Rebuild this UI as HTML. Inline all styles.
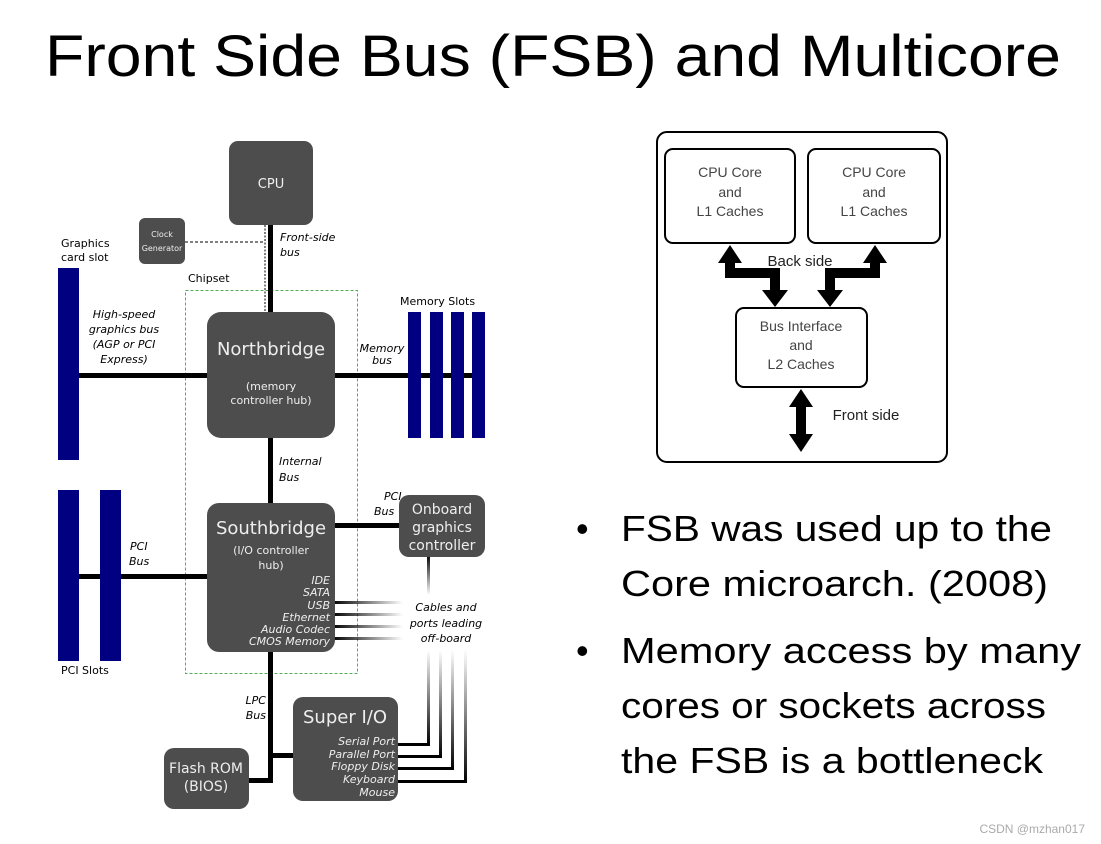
<!DOCTYPE html>
<html><head><meta charset="utf-8"><style>html,body{margin:0;padding:0;background:#fff}svg{display:block}</style></head>
<body>
<svg width="1101" height="844" viewBox="0 0 1101 844" xmlns="http://www.w3.org/2000/svg" font-family="'DejaVu Sans','Liberation Sans',sans-serif">
<defs>
<linearGradient id="gh" x1="0" x2="1" y1="0" y2="0"><stop offset="0" stop-color="#000"/><stop offset="1" stop-color="#000" stop-opacity="0"/></linearGradient>
<linearGradient id="gv" x1="0" x2="0" y1="0" y2="1"><stop offset="0" stop-color="#000" stop-opacity="0"/><stop offset="1" stop-color="#000"/></linearGradient>
<linearGradient id="gv2" x1="0" x2="0" y1="0" y2="1"><stop offset="0" stop-color="#000"/><stop offset="1" stop-color="#000" stop-opacity="0"/></linearGradient>
</defs>
<text x="553" y="76" font-family="'Liberation Sans',sans-serif" font-size="58" text-anchor="middle" textLength="1016" lengthAdjust="spacingAndGlyphs">Front Side Bus (FSB) and Multicore</text>

<rect x="185.5" y="290.5" width="172" height="383" fill="none" stroke="#5a5" stroke-dasharray="3,2"/>
<text x="188" y="282" font-size="11">Chipset</text>
<rect x="268" y="225" width="5" height="90" fill="#000"/>
<line x1="265" y1="225" x2="265" y2="312" stroke="#000" stroke-dasharray="2,1.5" stroke-width="1"/>
<line x1="185" y1="242" x2="265" y2="242" stroke="#000" stroke-dasharray="3,2" stroke-width="1"/>
<rect x="79" y="373" width="130" height="5" fill="#000"/>
<rect x="333" y="373" width="152" height="5" fill="#000"/>
<rect x="268" y="436" width="5" height="70" fill="#000"/>
<rect x="79" y="574" width="130" height="5" fill="#000"/>
<rect x="333" y="523" width="68" height="5" fill="#000"/>
<rect x="268" y="650" width="5" height="132" fill="#000"/>
<rect x="273" y="753" width="22" height="5" fill="#000"/>
<rect x="248" y="778" width="25" height="5" fill="#000"/>
<rect x="333" y="601" width="70" height="3" fill="url(#gh)"/>
<rect x="333" y="613" width="70" height="3" fill="url(#gh)"/>
<rect x="333" y="625" width="70" height="3" fill="url(#gh)"/>
<rect x="333" y="637" width="70" height="3" fill="url(#gh)"/>
<rect x="427" y="555" width="3" height="40" fill="url(#gv2)"/>
<g fill="#000">
<rect x="427" y="650" width="3" height="95" fill="url(#gv)"/><rect x="397" y="743" width="33" height="3"/>
<rect x="439" y="650" width="3" height="108" fill="url(#gv)"/><rect x="397" y="755" width="45" height="3"/>
<rect x="451" y="650" width="3" height="120" fill="url(#gv)"/><rect x="397" y="767" width="57" height="3"/>
<rect x="464" y="650" width="3" height="133" fill="url(#gv)"/><rect x="397" y="780" width="70" height="3"/>
</g>
<g fill="#000080">
<rect x="58" y="268" width="21" height="192"/>
<rect x="58" y="490" width="21" height="171"/>
<rect x="100" y="490" width="21" height="171"/>
<rect x="408" y="312" width="13" height="126"/>
<rect x="430" y="312" width="13" height="126"/>
<rect x="451" y="312" width="13" height="126"/>
<rect x="472" y="312" width="13" height="126"/>
</g>
<g fill="#4d4d4d">
<rect x="229" y="141" width="84" height="84" rx="9"/>
<rect x="139" y="218" width="46" height="46" rx="6"/>
<rect x="207" y="312" width="128" height="126" rx="14"/>
<rect x="207" y="503" width="128" height="149" rx="12"/>
<rect x="399" y="495" width="86" height="62" rx="10"/>
<rect x="293" y="697" width="105" height="104" rx="10"/>
<rect x="164" y="748" width="85" height="61" rx="10"/>
</g>
<g fill="#eee" text-anchor="middle">
<text x="271" y="188" font-size="13">CPU</text>
<text x="162" y="237" font-size="8">Clock</text>
<text x="162" y="251" font-size="8">Generator</text>
<text x="271" y="355" font-size="18">Northbridge</text>
<text x="271" y="390" font-size="11">(memory</text>
<text x="271" y="404" font-size="11">controller hub)</text>
<text x="271" y="534" font-size="18">Southbridge</text>
<text x="271" y="554" font-size="11">(I/O controller</text>
<text x="271" y="569" font-size="11">hub)</text>
<text x="442" y="514" font-size="14">Onboard</text>
<text x="442" y="532" font-size="14">graphics</text>
<text x="442" y="550" font-size="14">controller</text>
<text x="345" y="723" font-size="18">Super I/O</text>
<text x="206" y="773" font-size="14">Flash ROM</text>
<text x="206" y="791" font-size="14">(BIOS)</text>
</g>
<g fill="#eee" text-anchor="end" font-style="italic" font-size="11">
<text x="330" y="584">IDE</text><text x="330" y="596">SATA</text><text x="330" y="609">USB</text>
<text x="330" y="621">Ethernet</text><text x="330" y="633">Audio Codec</text><text x="330" y="645">CMOS Memory</text>
<text x="395" y="745">Serial Port</text><text x="395" y="758">Parallel Port</text><text x="395" y="770">Floppy Disk</text>
<text x="395" y="783">Keyboard</text><text x="395" y="796">Mouse</text>
</g>
<g font-size="11" fill="#000">
<text x="61" y="247">Graphics</text><text x="61" y="261">card slot</text>
<text x="400" y="305">Memory Slots</text>
<text x="61" y="674">PCI Slots</text>
</g>
<g font-size="11" font-style="italic" fill="#000">
<text x="280" y="241">Front-side</text><text x="280" y="256">bus</text>
<text x="124" y="318" text-anchor="middle">High-speed</text>
<text x="124" y="333" text-anchor="middle">graphics bus</text>
<text x="124" y="348" text-anchor="middle">(AGP or PCI</text>
<text x="124" y="363" text-anchor="middle">Express)</text>
<text x="382" y="352" text-anchor="middle">Memory</text><text x="382" y="364" text-anchor="middle">bus</text>
<text x="279" y="465">Internal</text><text x="279" y="481">Bus</text>
<text x="130" y="550">PCI</text><text x="129" y="565">Bus</text>
<text x="384" y="500">PCI</text><text x="374" y="515">Bus</text>
<text x="446" y="611" text-anchor="middle">Cables and</text>
<text x="446" y="627" text-anchor="middle">ports leading</text>
<text x="446" y="642" text-anchor="middle">off-board</text>
<text x="266" y="704" text-anchor="end">LPC</text><text x="266" y="719" text-anchor="end">Bus</text>
</g>

<g fill="none" stroke="#000" stroke-width="2">
<rect x="657" y="132" width="290" height="330" rx="10"/>
<rect x="665" y="149" width="130" height="94" rx="8"/>
<rect x="808" y="149" width="132" height="94" rx="8"/>
<rect x="736" y="308" width="131" height="79" rx="8"/>
</g>
<g fill="#444" font-family="'Liberation Sans',sans-serif" font-size="14" text-anchor="middle">
<text x="730" y="177">CPU Core</text><text x="730" y="197">and</text><text x="730" y="216">L1 Caches</text>
<text x="874" y="177">CPU Core</text><text x="874" y="197">and</text><text x="874" y="216">L1 Caches</text>
<text x="801" y="331">Bus Interface</text><text x="801" y="350">and</text><text x="801" y="369">L2 Caches</text>
<text x="800" y="266" fill="#222" font-size="15">Back side</text>
<text x="866" y="420" fill="#222" font-size="15">Front side</text>
</g>
<g fill="#000">
<polygon points="730,245 718,263 725,263 725,278 770,278 770,290 762,290 775,307 788,290 780,290 780,268 735,268 735,263 742,263"/>
<polygon points="875,245 887,263 880,263 880,278 835,278 835,290 843,290 830,307 817,290 825,290 825,268 870,268 870,263 863,263"/>
<polygon points="801,389 789,407 796,407 796,434 789,434 801,452 813,434 806,434 806,407 813,407"/>
</g>

<g font-family="'Liberation Sans',sans-serif" font-size="36" fill="#000">
<text x="576" y="541">•</text>
<text x="621" y="541" textLength="431" lengthAdjust="spacingAndGlyphs">FSB was used up to the</text>
<text x="621" y="596" textLength="427" lengthAdjust="spacingAndGlyphs">Core microarch. (2008)</text>
<text x="576" y="663">•</text>
<text x="621" y="663" textLength="460" lengthAdjust="spacingAndGlyphs">Memory access by many</text>
<text x="621" y="718" textLength="425" lengthAdjust="spacingAndGlyphs">cores or sockets across</text>
<text x="621" y="773" textLength="422" lengthAdjust="spacingAndGlyphs">the FSB is a bottleneck</text>
</g>
<text x="1085" y="833" font-family="'Liberation Sans',sans-serif" font-size="12" fill="#aaa" text-anchor="end">CSDN @mzhan017</text>
</svg>
</body></html>
